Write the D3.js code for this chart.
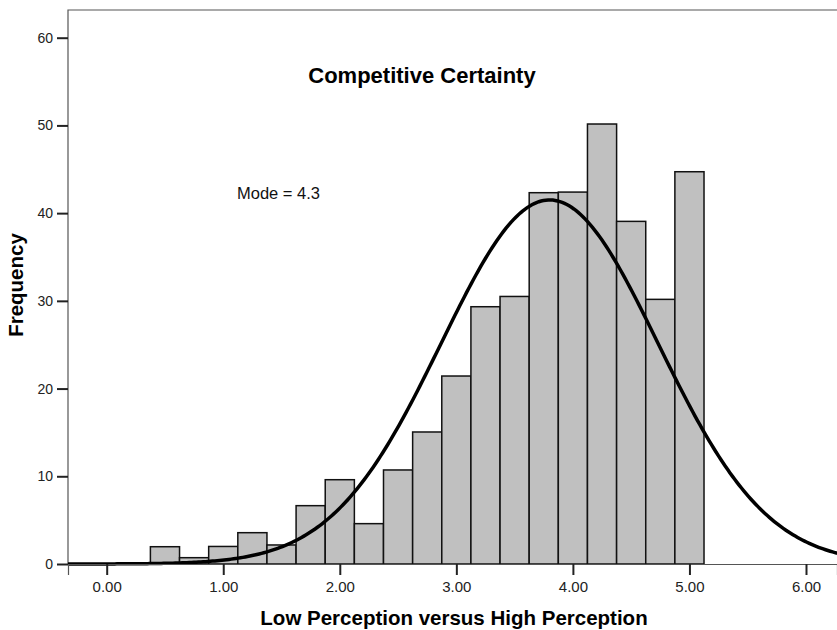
<!DOCTYPE html>
<html>
<head>
<meta charset="utf-8">
<script src="https://cdn.jsdelivr.net/npm/d3@7"></script>
<style>
  body { margin: 0; background: #fff; }
  svg { display: block; font-family: "Liberation Sans", Arial, sans-serif; }
</style>
</head>
<body>
<div id="chart"></div>
<script>
// histogram bins (lower edges, width 0.25) and frequencies
const binStarts = [0.375, 0.625, 0.875, 1.125, 1.375, 1.625, 1.875, 2.125, 2.375, 2.625,
  2.875, 3.125, 3.375, 3.625, 3.875, 4.125, 4.375, 4.625, 4.875];
const frequencies = [1.97, 0.72, 2.0, 3.57, 2.17, 6.65, 9.61, 4.6, 10.72, 15.05,
  21.43, 29.33, 30.5, 42.33, 42.4, 50.16, 39.06, 30.17, 44.72];
const binWidth = 0.25;

// fitted normal curve
const curveMean = 3.80;
const curveSd = 0.93;
const curveN = 387;

const xTicks = [0, 1, 2, 3, 4, 5, 6];
const yTicks = [0, 10, 20, 30, 40, 50, 60];

const width = 837, height = 630;
const plot = { left: 68, top: 10, right: 837, bottom: 564 };

const svg = d3.select("#chart")
  .append("svg")
  .attr("width", width)
  .attr("height", height);

const x = d3.scaleLinear()
  .domain([-0.332, 6.266])
  .range([plot.left, plot.right]);

const y = d3.scaleLinear()
  .domain([0, 60])
  .range([plot.bottom, 37.7]);

// frame
svg.append("path")
  .attr("d", `M${plot.left},${plot.bottom}V${plot.top}H${width + 5}`)
  .attr("fill", "none")
  .attr("stroke", "#555")
  .attr("stroke-width", 1.2);

// bars
svg.append("g")
  .selectAll("rect")
  .data(frequencies)
  .join("rect")
  .attr("x", (d, i) => x(binStarts[i]))
  .attr("y", d => y(d))
  .attr("width", (d, i) => x(binStarts[i] + binWidth) - x(binStarts[i]))
  .attr("height", d => y(0) - y(d))
  .attr("fill", "#c0c0c0")
  .attr("stroke", "#111")
  .attr("stroke-width", 1.5);

// normal curve
const density = v => curveN * binWidth / (curveSd * Math.sqrt(2 * Math.PI)) *
  Math.exp(-((v - curveMean) ** 2) / (2 * curveSd * curveSd));
const curvePts = d3.range(x.domain()[0], x.domain()[1] + 0.02, 0.02);

svg.append("path")
  .datum(curvePts)
  .attr("fill", "none")
  .attr("stroke", "#000")
  .attr("stroke-width", 3.5)
  .attr("d", d3.line().x(v => x(v)).y(v => y(density(v))));

// bottom axis
const xAxis = svg.append("g")
  .attr("transform", `translate(0, ${plot.bottom})`)
  .call(d3.axisBottom(x).tickValues(xTicks).tickFormat(d3.format(".2f")).tickSize(11).tickPadding(6));
xAxis.select(".domain").attr("stroke", "#555").attr("stroke-width", 1.2);
xAxis.selectAll(".tick line").attr("stroke", "#222").attr("stroke-width", 2);
xAxis.selectAll("text").attr("font-size", 15).attr("fill", "#222")
  .attr("font-family", "Liberation Sans, Arial, sans-serif");

// left axis
const yAxis = svg.append("g")
  .attr("transform", `translate(${plot.left}, 0)`)
  .call(d3.axisLeft(y).tickValues(yTicks).tickSize(11).tickPadding(4));
yAxis.select(".domain").remove();
yAxis.selectAll(".tick line").attr("stroke", "#222").attr("stroke-width", 2);
yAxis.selectAll("text").attr("font-size", 14).attr("fill", "#222")
  .attr("font-family", "Liberation Sans, Arial, sans-serif");

// texts
svg.append("text")
  .attr("x", 422)
  .attr("y", 83)
  .attr("text-anchor", "middle")
  .attr("font-size", 22)
  .attr("font-weight", "bold")
  .text("Competitive Certainty");

svg.append("text")
  .attr("x", 237)
  .attr("y", 199)
  .attr("font-size", 16.5)
  .attr("fill", "#111")
  .text("Mode = 4.3");

svg.append("text")
  .attr("x", 454)
  .attr("y", 625)
  .attr("text-anchor", "middle")
  .attr("font-size", 20.5)
  .attr("font-weight", "bold")
  .text("Low Perception versus High Perception");

svg.append("text")
  .attr("transform", "rotate(-90)")
  .attr("x", -285)
  .attr("y", 23)
  .attr("text-anchor", "middle")
  .attr("font-size", 20.5)
  .attr("font-weight", "bold")
  .text("Frequency");
</script>
</body>
</html>
